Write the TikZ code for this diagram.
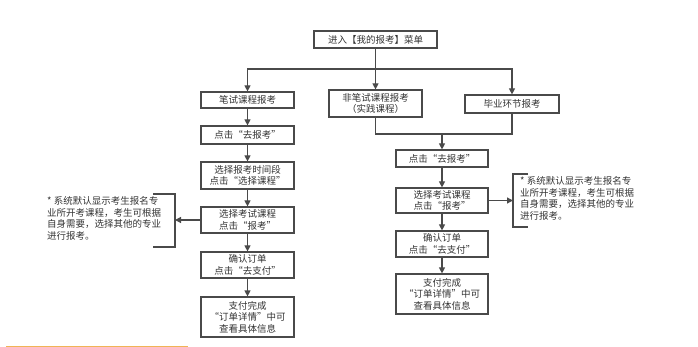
\documentclass[tikz,border=0pt]{standalone}
\usepackage{fontspec}
\setmainfont{Noto Sans CJK SC}
\usetikzlibrary{arrows.meta}
\definecolor{lc}{HTML}{4A4A4A}
\definecolor{tc}{HTML}{333333}
\definecolor{oc}{HTML}{F0B455}
\tikzset{
  box/.style={draw=lc, line width=1.2pt, inner sep=0pt, align=center, text=tc,
    font=\fontsize{9.5pt}{11.5pt}\selectfont},
  link/.style={draw=lc, line width=1.2pt},
  arr/.style={link, -{Triangle[length=6pt,width=6pt]}},
  note/.style={inner sep=0pt, align=left, text=tc, anchor=north west,
    font=\fontsize{9.5pt}{11.8pt}\selectfont}
}
\begin{document}
\begin{tikzpicture}[x=1pt,y=-1pt]
\useasboundingbox (0,0) rectangle (698,347);
% top
\node[box, minimum width=123pt, minimum height=17pt] (top) at (375.5,39.5) {进入【我的报考】菜单};
% three branches
\node[box, minimum width=93pt, minimum height=16pt] (b1) at (247.5,100) {笔试课程报考};
\node[box, minimum width=93pt, minimum height=27pt] (b2) at (375.5,103.5) {非笔试课程报考\\（实践课程）};
\node[box, minimum width=94pt, minimum height=18pt] (b3) at (512,104) {毕业环节报考};
% left column
\node[box, minimum width=93pt, minimum height=18pt] (l1) at (247.5,135) {点击“去报考”};
\node[box, minimum width=93pt, minimum height=27pt] (l2) at (247.5,175.5) {选择报考时间段\\点击“选择课程”};
\node[box, minimum width=93pt, minimum height=26pt] (l3) at (247.5,220) {选择考试课程\\点击“报考”};
\node[box, minimum width=93pt, minimum height=26pt] (l4) at (247.5,265) {确认订单\\点击“去支付”};
\node[box, minimum width=93pt, minimum height=40pt] (l5) at (247.5,317) {支付完成\\“订单详情”中可\\查看具体信息};
% right column
\node[box, minimum width=92pt, minimum height=17pt] (m1) at (442,158.5) {点击“去报考”};
\node[box, minimum width=92pt, minimum height=25pt] (m2) at (442,200.5) {选择考试课程\\点击“报考”};
\node[box, minimum width=92pt, minimum height=26pt] (m3) at (442,244) {确认订单\\点击“去支付”};
\node[box, minimum width=92pt, minimum height=40pt] (m4) at (442,294) {支付完成\\“订单详情”中可\\查看具体信息};
% notes
\node[note] (n1) at (47,196) {* 系统默认显示考生报名专\\业所开考课程，考生可根据\\自身需要，选择其他的专业\\进行报考。};
\node[note] (n2) at (520,176) {* 系统默认显示考生报名专\\业所开考课程，考生可根据\\自身需要，选择其他的专业\\进行报考。};
% connectors
\coordinate (jt) at (375.5,69);
\draw[link] (top) -- (jt);
\draw[arr] (jt) -| (b1);
\draw[arr] (jt) -| (b3);
\draw[arr] (jt) -- (b2);
\draw[arr] (b1) -- (l1);
\draw[arr] (l1) -- (l2);
\draw[arr] (l2) -- (l3);
\draw[arr] (l3) -- (l4);
\draw[arr] (l4) -- (l5);
\coordinate (jm) at (442,134);
\draw[link] (b2) |- (jm);
\draw[link] (b3) |- (jm);
\draw[arr] (jm) -- (m1);
\draw[arr] (m1) -- (m2);
\draw[arr] (m2) -- (m3);
\draw[arr] (m3) -- (m4);
% brackets
\coordinate (nl) at (175,220);
\coordinate (nr) at (513,200.5);
\draw[link] (153,194) -- (175,194) -- (175,247) -- (153,247);
\draw[arr] (l3) -- (nl);
\draw[link] (528,174) -- (513,174) -- (513,227) -- (528,227);
\draw[arr] (m2) -- (nr);
% orange line
\draw[oc, line width=1pt] (6,346) -- (188,346);
\end{tikzpicture}
\end{document}
